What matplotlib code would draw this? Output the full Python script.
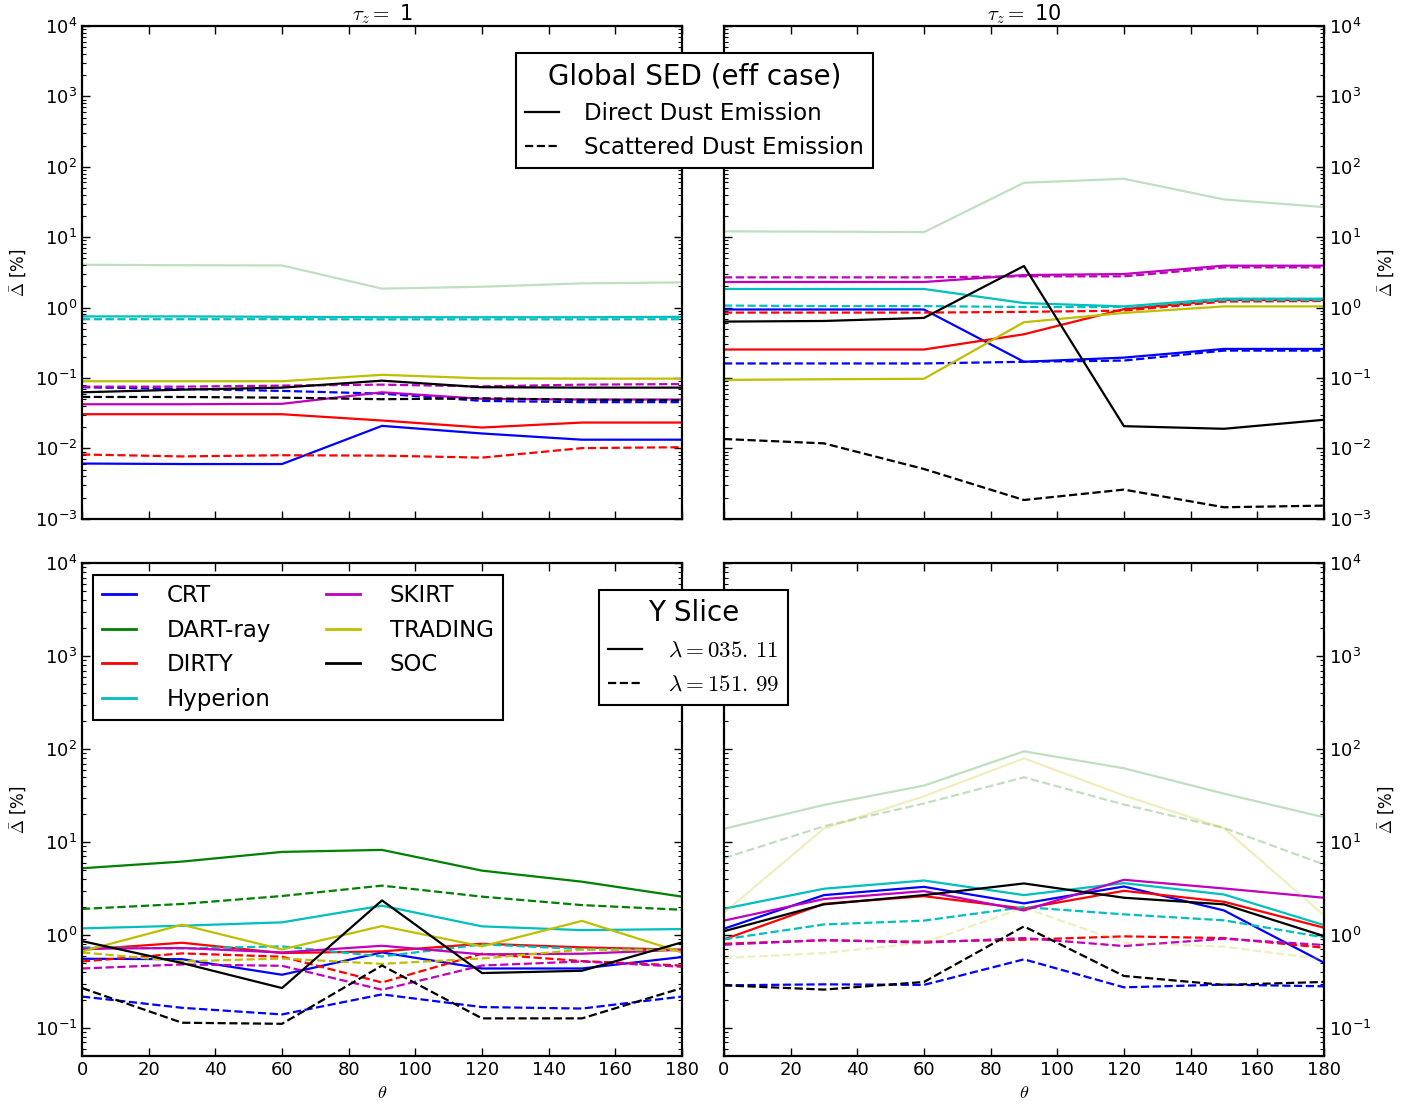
import matplotlib
matplotlib.use('Agg')
import matplotlib.pyplot as plt
from matplotlib.lines import Line2D

plt.rcParams['mathtext.fontset'] = 'cm'
plt.rcParams['font.family'] = 'DejaVu Sans'

# viewing angles
theta = [0, 30, 60, 90, 120, 150, 180]

codes = ['CRT', 'DART-ray', 'DIRTY', 'Hyperion', 'SKIRT', 'TRADING', 'SOC']
colors = ['b', 'g', 'r', 'c', 'm', 'y', 'k']

# Global SED, tau_z = 1
sed_t1_direct = {
    'CRT':      [0.0061, 0.0060, 0.0060, 0.0209, 0.0163, 0.0133, 0.0133],
    'DART-ray': [4.06, 4.0, 3.97, 1.86, 1.98, 2.21, 2.28],
    'DIRTY':    [0.0306, 0.0306, 0.0306, 0.0249, 0.0198, 0.0233, 0.0233],
    'Hyperion': [0.75, 0.75, 0.74, 0.73, 0.73, 0.73, 0.74],
    'SKIRT':    [0.0424, 0.0424, 0.043, 0.0627, 0.0506, 0.0495, 0.0495],
    'TRADING':  [0.090, 0.090, 0.090, 0.111, 0.099, 0.098, 0.098],
    'SOC':      [0.0627, 0.0683, 0.073, 0.0917, 0.074, 0.073, 0.073],
}
sed_t1_scatter = {
    'CRT':      [0.074, 0.070, 0.0656, 0.060, 0.0473, 0.0454, 0.0454],
    'DART-ray': None,
    'DIRTY':    [0.0082, 0.0077, 0.0080, 0.0079, 0.0074, 0.0101, 0.0104],
    'Hyperion': [0.684, 0.684, 0.684, 0.68, 0.68, 0.68, 0.684],
    'SKIRT':    [0.0754, 0.0754, 0.078, 0.0805, 0.076, 0.0805, 0.082],
    'TRADING':  None,
    'SOC':      [0.0538, 0.0538, 0.0526, 0.050, 0.0515, 0.049, 0.0485],
}

# Global SED, tau_z = 10
sed_t10_direct = {
    'CRT':      [0.94, 0.94, 0.94, 0.17, 0.195, 0.259, 0.259],
    'DART-ray': [12.1, 12.0, 11.8, 59.3, 67.6, 34.4, 26.8],
    'DIRTY':    [0.254, 0.254, 0.254, 0.418, 0.95, 1.28, 1.28],
    'Hyperion': [1.84, 1.84, 1.84, 1.16, 1.04, 1.34, 1.34],
    'SKIRT':    [2.31, 2.31, 2.31, 2.9, 3.0, 3.94, 3.94],
    'TRADING':  [0.094, 0.096, 0.0975, 0.62, 0.84, 1.04, 1.04],
    'SOC':      [0.633, 0.646, 0.714, 3.9, 0.0207, 0.019, 0.0255],
}
sed_t10_scatter = {
    'CRT':      [0.161, 0.161, 0.161, 0.17, 0.177, 0.245, 0.245],
    'DART-ray': None,
    'DIRTY':    [0.85, 0.85, 0.85, 0.87, 0.906, 1.22, 1.24],
    'Hyperion': [1.07, 1.05, 1.05, 1.02, 1.02, 1.28, 1.28],
    'SKIRT':    [2.69, 2.69, 2.69, 2.78, 2.78, 3.73, 3.73],
    'TRADING':  None,
    'SOC':      [0.0136, 0.0118, 0.0051, 0.00185, 0.0026, 0.00146, 0.00154],
}

# Y slice, tau_z = 1
ys_t1_035 = {
    'CRT':      [0.556, 0.55, 0.374, 0.65, 0.437, 0.437, 0.58],
    'DART-ray': [5.23, 6.17, 7.84, 8.24, 4.93, 3.75, 2.59],
    'DIRTY':    [0.695, 0.827, 0.64, 0.667, 0.807, 0.737, 0.695],
    'Hyperion': [1.18, 1.26, 1.37, 2.07, 1.24, 1.13, 1.16],
    'SKIRT':    [0.713, 0.725, 0.65, 0.767, 0.62, 0.63, 0.695],
    'TRADING':  [0.667, 1.29, 0.70, 1.25, 0.755, 1.42, 0.65],
    'SOC':      [0.861, 0.50, 0.269, 2.36, 0.39, 0.413, 0.834],
}
ys_t1_152 = {
    'CRT':      [0.218, 0.165, 0.14, 0.23, 0.168, 0.162, 0.218],
    'DART-ray': [1.91, 2.16, 2.63, 3.4, 2.59, 2.1, 1.87],
    'DIRTY':    [0.52, 0.635, 0.585, 0.309, 0.63, 0.525, 0.47],
    'Hyperion': [0.737, 0.718, 0.755, 0.589, 0.793, 0.707, 0.69],
    'SKIRT':    [0.437, 0.483, 0.467, 0.258, 0.47, 0.52, 0.456],
    'TRADING':  [0.65, 0.52, 0.56, 0.49, 0.56, 0.695, 0.684],
    'SOC':      [0.269, 0.114, 0.111, 0.47, 0.127, 0.127, 0.269],
}

# Y slice, tau_z = 10
ys_t10_035 = {
    'CRT':      [1.17, 2.69, 3.3, 2.19, 3.33, 1.84, 0.505],
    'DART-ray': [13.9, 25.1, 40.5, 94.7, 62.2, 33.2, 18.5],
    'DIRTY':    [0.898, 2.17, 2.62, 1.93, 2.99, 2.28, 1.2],
    'Hyperion': [1.92, 3.15, 3.86, 2.69, 3.62, 2.73, 1.28],
    'SKIRT':    [1.43, 2.44, 2.97, 1.84, 3.93, 3.17, 2.52],
    'TRADING':  [1.74, 14.0, 31.1, 79.6, 31.7, 14.1, 1.63],
    'SOC':      [1.10, 2.14, 2.69, 3.59, 2.52, 2.14, 0.975],
}
ys_t10_152 = {
    'CRT':      [0.288, 0.295, 0.291, 0.548, 0.274, 0.293, 0.281],
    'DART-ray': [6.71, 14.8, 26.0, 49.8, 25.3, 14.2, 5.74],
    'DIRTY':    [0.807, 0.877, 0.848, 0.891, 0.968, 0.928, 0.731],
    'Hyperion': [0.90, 1.3, 1.43, 2.0, 1.67, 1.44, 0.944],
    'SKIRT':    [0.787, 0.884, 0.827, 0.928, 0.762, 0.913, 0.781],
    'TRADING':  [0.566, 0.64, 0.827, 1.97, 0.827, 0.75, 0.548],
    'SOC':      [0.288, 0.259, 0.313, 1.24, 0.363, 0.291, 0.313],
}

# codes drawn faded in each panel
faded = {
    (0, 0): ['DART-ray'],
    (0, 1): ['DART-ray'],
    (1, 0): [],
    (1, 1): ['DART-ray', 'TRADING'],
}

panels = {
    (0, 0): (sed_t1_direct, sed_t1_scatter),
    (0, 1): (sed_t10_direct, sed_t10_scatter),
    (1, 0): (ys_t1_035, ys_t1_152),
    (1, 1): (ys_t10_035, ys_t10_152),
}

fig, axes = plt.subplots(2, 2, figsize=(14.19, 11.06), dpi=100)
fig.subplots_adjust(left=0.0578, right=0.933, top=0.9765, bottom=0.0452,
                    wspace=0.07, hspace=0.09)

for (i, j), (solid, dashed) in panels.items():
    ax = axes[i, j]
    for code, col in zip(codes, colors):
        a = 0.25 if code in faded[(i, j)] else 1.0
        if solid[code] is not None:
            ax.plot(theta, solid[code], color=col, lw=1.6, ls='-', alpha=a)
        if dashed[code] is not None:
            ax.plot(theta, dashed[code], color=col, lw=1.6, ls='--', alpha=a)
    ax.set_yscale('log')
    ax.set_xlim(0, 180)
    if i == 0:
        ax.set_ylim(1e-3, 1e4)
        ax.set_xticklabels([])
    else:
        ax.set_ylim(5e-2, 1e4)
        ax.set_xlabel(r'$\theta$', fontsize=13)
    ax.set_xticks(range(0, 181, 20))
    ax.tick_params(which='both', direction='in', top=True, right=True,
                   left=True, labelsize=13)
    ax.tick_params(which='major', length=6, width=1)
    ax.tick_params(which='minor', length=3, width=0.8)
    for sp in ax.spines.values():
        sp.set_linewidth(1.6)
    ax.set_ylabel(r'$\bar{\Delta}$ [%]', fontsize=12)
    if j == 1:
        ax.yaxis.set_label_position('right')
        ax.yaxis.tick_right()
        ax.tick_params(which='both', left=True, direction='in')

axes[0, 0].set_title(r'$\tau_z =$ 1', fontsize=15, pad=2)
axes[0, 1].set_title(r'$\tau_z =$ 10', fontsize=15, pad=2)

# legends
leg_kw = dict(borderaxespad=0, fontsize=16.5, fancybox=False, edgecolor='k',
              framealpha=1, handlelength=1.5, handletextpad=1.1,
              labelspacing=0.5)

style_handles = [Line2D([], [], color='k', lw=1.6, ls='-'),
                 Line2D([], [], color='k', lw=1.6, ls='--')]
leg1 = fig.legend(style_handles, ['Direct Dust Emission', 'Scattered Dust Emission'],
                  loc='upper center', bbox_to_anchor=(0.4894, 0.952),
                  title='Global SED (eff case)', title_fontsize=20, **leg_kw)
leg1.get_frame().set_linewidth(1.5)

code_handles = [Line2D([], [], color=c, lw=2) for c in colors]
leg2_kw = dict(leg_kw, handletextpad=1.3)
leg2 = fig.legend(code_handles, codes, loc='upper left',
                  bbox_to_anchor=(0.0655, 0.480), ncol=2, columnspacing=2.4,
                  **leg2_kw)
leg2.get_frame().set_linewidth(1.5)

leg3 = fig.legend(style_handles, [r'$\lambda = 035.\,11$', r'$\lambda = 151.\,99$'],
                  loc='upper left', bbox_to_anchor=(0.422, 0.4665),
                  title='Y Slice', title_fontsize=20, **leg_kw)
leg3.get_frame().set_linewidth(1.5)

fig.savefig('out.png', dpi=100)
